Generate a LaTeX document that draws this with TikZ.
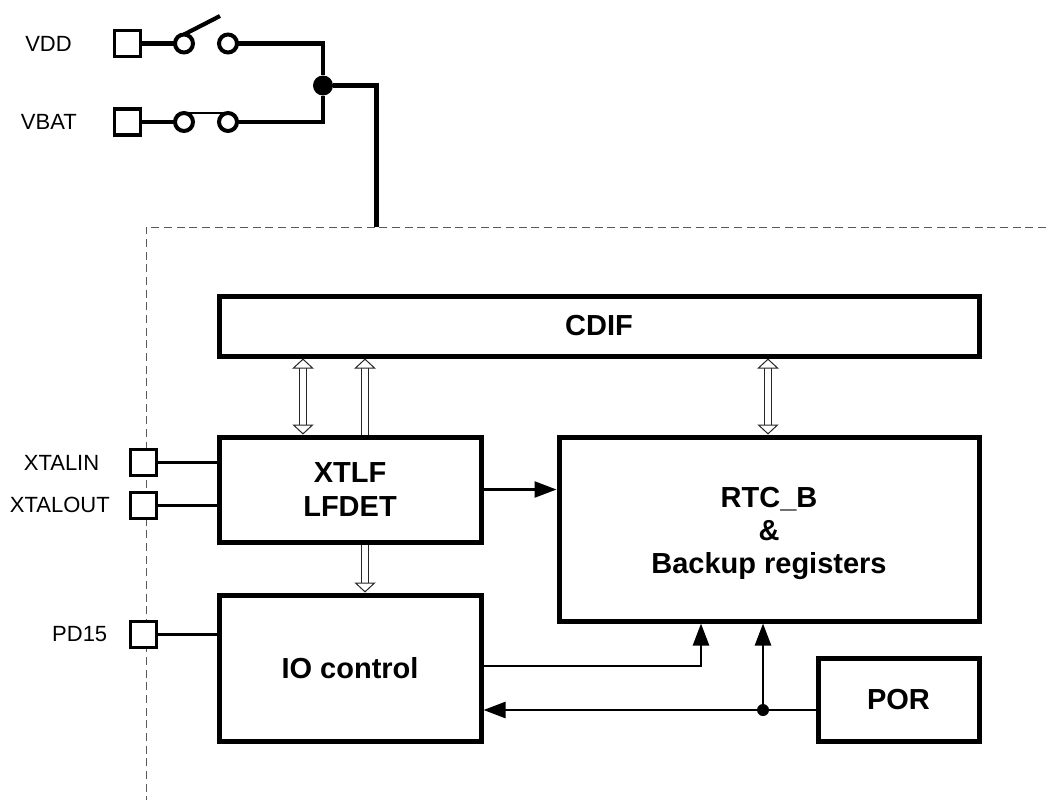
\documentclass[tikz,border=0pt]{standalone}
\usepackage{fontspec}
\setmainfont{Liberation Sans}
\usetikzlibrary{arrows.meta,positioning}

\tikzset{hollow/.tip={Triangle[open, fill=white, length=7.5pt, width=16pt, line width=0.75pt]}}

\begin{document}
\begin{tikzpicture}[x=0.75pt, y=-0.75pt, node distance=6mm,
  >={Triangle[length=16.5pt,width=12pt]},
  every node/.style={font=\fontsize{16.5}{18}\selectfont},
  blockbox/.style={draw, fill=white, line width=3.75pt, align=center, inner sep=0pt,
    font=\fontsize{21.75}{25}\selectfont\bfseries},
  pad/.style={draw, fill=white, line width=2.4pt, inner sep=0pt, minimum size=19.5pt},
  padlabel/.style={inner sep=0pt, anchor=base east},
  contact/.style={circle, draw, fill=white, line width=3pt, inner sep=0pt, outer sep=0pt, minimum size=13.5pt},
  powerwire/.style={line width=3.1pt},
  signal/.style={line width=1.9pt},
  buswire/.style={double, draw=black!85, line width=0.75pt, double distance=4.5pt},
  dot/.style={circle, fill=black, inner sep=0pt, minimum size=#1}]

\useasboundingbox (0,0) rectangle (1046,800);

% chip border
\coordinate (bordertr) at (1046,227);
\coordinate (bordertl) at (146,227);
\coordinate (borderbl) at (146,800);
\draw[black!65, line width=0.75pt, dash pattern=on 6pt off 3.5pt] (bordertr) -- (bordertl) -- (borderbl);

% blocks
\node[blockbox, minimum width=570pt, minimum height=45pt] (cdif) at (599,326) {CDIF};
\node[blockbox, minimum width=196.5pt, minimum height=78.75pt, below right=57pt and 0pt of cdif.south west] (xtlf) {XTLF\\LFDET};
\node[blockbox, minimum width=196.5pt, minimum height=109.5pt, below=36pt of xtlf] (io) {IO control};
\node[blockbox, minimum width=315pt, minimum height=138pt, below left=57pt and 0pt of cdif.south east] (rtc) {\\[-3pt]RTC\_B\\\&\\Backup registers};
\node[blockbox, minimum width=120.75pt, minimum height=62.25pt, below left=24pt and 0pt of rtc.south east] (por) {POR};

% pads
\node[pad] (vddpad) at (127.5,43.5) {};
\node[pad] (vbatpad) at (127.5,122) {};
\node[pad] (xtalinpad) at (143.5,462.5) {};
\node[pad] (xtaloutpad) at (143.5,505.5) {};
\node[pad] (pd15pad) at (143.5,634.5) {};

\node[padlabel] (vddlabel) at (72,51) {VDD};
\node[padlabel] (vbatlabel) at (77,129) {VBAT};
\node[padlabel] (xtalinlabel) at (99.5,470) {XTALIN};
\node[padlabel] (xtaloutlabel) at (110,512.5) {XTALOUT};
\node[padlabel] (pd15label) at (107.5,641.5) {PD15};

% switches
\node[contact] (vddin) at (184,43.5) {};
\node[contact] (vddout) at (228,43.5) {};
\node[contact] (vbatin) at (184,122) {};
\node[contact] (vbatout) at (228,122) {};
\node[dot=15pt] (join) at (323,85.5) {};
\coordinate (armend) at (220,16);
\coordinate (vcore) at (376.5,227);

\draw[powerwire] (vddpad) -- (vddin);
\draw[powerwire] (vbatpad) -- (vbatin);
\draw[powerwire] (vddin.north) -- (armend);
\draw[line width=2.2pt] (vbatin.north) -- (vbatout.north);
\draw[powerwire] (vddout) -| (join);
\draw[powerwire] (vbatout) -| (join);
\draw[powerwire] (join) -| (vcore);

% pad wires
\draw[signal] (xtalinpad) -- (xtalinpad -| xtlf.west);
\draw[signal] (xtaloutpad) -- (xtaloutpad -| xtlf.west);
\draw[signal] (pd15pad) -- (pd15pad -| io.west);

% buses
\draw[buswire, {hollow}-{hollow}] (303,0 |- cdif.south) -- (303,0 |- xtlf.north);
\draw[buswire, -{hollow}] (365,0 |- xtlf.north) -- (365,0 |- cdif.south);
\draw[buswire, -{hollow}] (365.01,0 |- xtlf.south) -- (365.01,0 |- io.north);
\draw[buswire, {hollow}-{hollow}] (768,0 |- cdif.south) -- (768,0 |- rtc.north);

% signals
\node[dot=9pt] (porjoin) at (763,710) {};
\draw[signal,->] (xtlf.east) -- (xtlf.east -| rtc.west);
\draw[signal,->] (io.east |- 0,666) -| (701,0 |- rtc.south);
\draw[signal,->] (porjoin) -- (porjoin |- rtc.south);
\draw[signal] (por.west |- porjoin) -- (porjoin);
\draw[signal,->] (porjoin) -- (porjoin -| io.east);

\end{tikzpicture}
\end{document}
